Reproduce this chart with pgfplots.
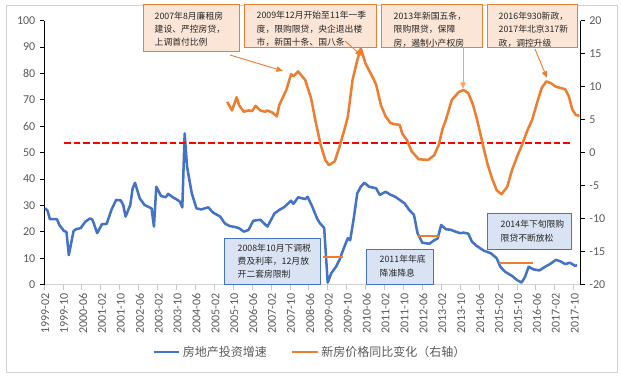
\documentclass[border=0pt]{standalone}
\usepackage{pgfplots}
\pgfplotsset{compat=1.18}
\usepackage{fontspec}
\setmainfont{Carlito}
\newfontfamily\cjk{Noto Sans CJK SC}
\definecolor{cblue}{HTML}{4472C4}
\definecolor{corange}{HTML}{ED7D31}
\definecolor{tgray}{HTML}{595959}
\definecolor{peach}{HTML}{FBE5D6}
\definecolor{lblue}{HTML}{DAE3F3}
\usetikzlibrary{arrows.meta}

\pgfplotstableread{
x y
0 29
1 28
2 24.8
5 24.8
6 22.6
8 20.3
9 20
10 11.2
12 20.3
13 21
15 21.4
17 23.9
19 25.1
20 24.6
22 19.5
24 22.9
26 23
28 28.3
30 32.1
32 31.9
33 30.2
34 25.8
36 30.2
37 36.5
38 38.6
40 32.7
42 30.2
44 29.3
45 28.9
46 22
47 37.1
49 33.6
51 33.1
52 34.4
54 33.1
56 32.1
57 31.4
58 29.3
59 57.3
60 44.7
62 34.6
64 28.9
66 28.5
69 29.3
71 27.3
74 25.8
76 23.2
78 22.2
80 21.9
82 21.4
84 20.1
86 20.7
88 24.2
91 24.6
94 22
97 27
99 28.3
101 29.3
104 31.8
105 30.6
107 33.1
110 32.4
111 33.3
113 29.5
115 25.1
116 23.5
118 21.5
119.5 0.8
121 4.3
123 6.8
124.5 9.4
126 13.1
128 17.6
129 16.8
130.5 25
132 34.6
133.5 37.1
135 38.6
137 37.1
140 36.5
141.5 34
144 35.2
146 34.1
148 33.3
150 32.1
152 30.8
154 28.3
156 26.4
157.5 19.5
159.5 15.9
162.5 15.5
164.5 16.8
166 17.5
167.5 22.6
169.5 21
171.5 20.8
173.5 20.1
175.5 19.5
177 19.7
179 19.3
180.5 16.3
182.5 14.7
185.5 12.9
188.5 11.9
191 10
192.5 6.8
194.5 4.9
197.5 3.3
199.5 1.8
201.5 0.8
203 3.0
204.5 6.8
206.5 5.8
209 5.4
211.5 6.8
213.5 7.8
216 9.4
218 8.8
220 7.8
222 8.3
224 7.2
225 7.3
}\bluedata

\pgfplotstableread{
x y
77 7.7
79 6.4
81 8.4
82 7.2
84 6.2
86 6.4
87.5 6.3
89 7.1
91 6.4
93 6.2
94 6.4
96 6.1
98 5.5
99 7.2
102 9.5
104 11.9
105 11.6
107 12.3
110 11
112.5 8.2
114.5 4.5
116.5 1.2
118.5 -1.1
120 -1.9
122.5 -1.3
124.5 0.9
126.5 3.4
128 5.4
130 11.0
132 14.0
133.5 15.8
135.5 13.5
138 11.8
140 10.3
142 7.2
144 5.5
146 4.5
148 4.3
150 4.2
151 2.9
153 1.9
155 0.2
158 -1.0
162 -1.1
164.5 -0.4
166.5 1.2
168 3.5
169.5 5.0
172 8.0
175 9.2
177 9.5
179 9.0
181 7.2
182.7 5.0
185 1.4
187 -1.6
189 -3.9
191 -5.7
193 -6.3
195.4 -5.2
197.5 -2.6
199.6 -0.6
201.7 1.2
204 3.4
206 5.0
208 7.5
210 9.8
212 10.8
214 10.5
216 10.0
218 9.8
220 9.6
221.5 8.5
223 6.5
224.5 5.7
226 5.6
}\orangedata

\pgfplotsset{
  common/.style={
    at={(33pt,70pt)}, anchor=south west, scale only axis,
    width=402.5pt, height=198pt,
    xmin=-0.5, xmax=226.5,
    tick align=outside,
    major tick length=3pt,
    /pgf/number format/assume math mode=true,
    tick label style={font=\fontsize{9}{10}\selectfont, text=tgray},
  },
}

\begin{document}
\begin{tikzpicture}
\useasboundingbox (0,0) rectangle (465.75pt,283.5pt);
\begin{scope}[x=0.75pt,y=-0.75pt,yshift=283.5pt]
\draw[gray!35, line width=0.6pt] (6,5) rectangle (617,372);
\end{scope}

\begin{axis}[common,
  ymin=0, ymax=100,
  axis y line*=left, axis x line*=bottom,
  ytick={0,10,...,100},
  xtick={0,8,...,224},
  xticklabels={1999-02,1999-10,2000-06,2001-02,2001-10,2002-06,2003-02,2003-10,2004-06,2005-02,2005-10,2006-06,2007-02,2007-10,2008-06,2009-02,2009-10,2010-06,2011-02,2011-10,2012-06,2013-02,2013-10,2014-06,2015-02,2015-10,2016-06,2017-02,2017-10},
  x tick label style={rotate=90, anchor=east},
  xtick style={draw=none},
  extra x ticks={-0.5,7.5,...,223.5},
  extra x tick labels={},
  extra x tick style={xtick style={draw=gray!45, line width=0.5pt}, major tick length=4pt},
  x axis line style={draw=gray!35, line width=0.6pt},
  y axis line style={black, line width=0.7pt},
  ytick style={black, line width=0.6pt},
]
\addplot[cblue, line width=1.9pt, line join=round] table[x=x,y=y] {\bluedata};
\end{axis}

\begin{axis}[common,
  ymin=-20, ymax=20,
  axis y line*=right, axis x line=none,
  ytick={-20,-15,...,20},
  y axis line style={black, line width=0.7pt},
  ytick style={black, line width=0.6pt},
  legend style={at={(0.496,-0.255)}, anchor=center, draw=none, fill=none,
    legend columns=2, font=\cjk\fontsize{9}{10}\selectfont, text=tgray,
    /tikz/every even column/.append style={column sep=16pt}},
  legend image code/.code={\draw[#1] (0pt,0pt) -- (19pt,0pt);},
]
\addlegendimage{cblue, line width=2pt}
\addlegendentry{房地产投资增速}
\addplot[red, line width=1.7pt, dash pattern=on 5pt off 2.2pt, forget plot] coordinates {(8,1.5) (222,1.5)};
\addplot[corange, line width=1.9pt, line join=round] table[x=x,y=y] {\orangedata};
\addlegendentry{新房价格同比变化（右轴）}
\end{axis}

\begin{scope}[x=0.75pt,y=-0.75pt,yshift=283.5pt]
\tikzset{ann/.style={align=left, anchor=west, font=\cjk\fontsize{6.6}{10}\selectfont, text=black!85}}
% orange boxes
\draw[corange, fill=peach, line width=0.75pt] (143,5) rectangle (239,52);
\node[ann] at (150,29) {2007年8月廉租房\\建设、严控房贷，\\上调首付比例};
\draw[corange, fill=peach, line width=0.75pt] (244,5) rectangle (376,48);
\node[ann] at (252,29) {2009年12月开始至11年一季\\度，限购限贷，央企退出楼\\市，新国十条、国八条};
\draw[corange, fill=peach, line width=0.75pt] (381,5) rectangle (482,48);
\node[ann] at (389,29.5) {2013年新国五条，\\限购限贷，保障\\房，遏制小产权房};
\draw[corange, fill=peach, line width=0.75pt] (487,5) rectangle (577,48);
\node[ann] at (494,29.5) {2016年930新政，\\2017年北京317新\\政，调控升级};
% arrows
\draw[corange, line width=0.7pt, -{Triangle[length=5pt,width=4pt]}] (230,55) -- (283,71);
\draw[corange, line width=0.7pt, -{Triangle[length=5pt,width=4pt]}] (345,41) -- (362,56);
\draw[corange!70, line width=0.7pt, -{Triangle[length=5pt,width=4pt]}] (463,48) -- (463,89);
\draw[corange, line width=0.7pt, -{Triangle[length=5pt,width=4pt]}] (535,49) -- (547,78);
% blue boxes
\draw[cblue, fill=lblue, line width=0.75pt] (224.5,238.5) rectangle (320,285);
\node[ann] at (233,261) {2008年10月下调税\\费及利率，12月放\\开二套房限制};
\draw[cblue, fill=lblue, line width=0.75pt] (366,249.5) rectangle (433,285);
\node[ann] at (375,266) {2011年年底\\降准降息};
\draw[cblue, fill=lblue, line width=0.75pt] (487.5,214) rectangle (571.5,250);
\node[ann] at (496,231) {2014年下旬限购\\限贷不断放松};
% short orange markers
\draw[corange, line width=1.5pt] (323,256.7) -- (343,256.7);
\draw[corange, line width=1.5pt] (418,235.7) -- (440,235.7);
\draw[corange, line width=1.5pt] (499,262.7) -- (533,262.7);
\end{scope}
\end{tikzpicture}
\end{document}
